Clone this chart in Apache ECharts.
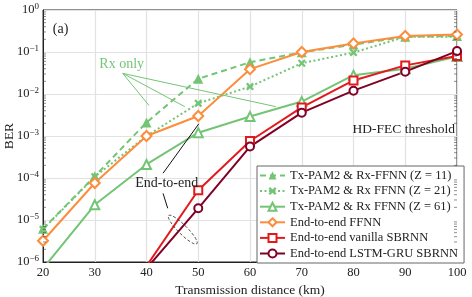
<!DOCTYPE html>
<html><head><meta charset="utf-8">
<script src="https://cdn.jsdelivr.net/npm/echarts@6/dist/echarts.min.js"></script>
<style>html,body{margin:0;padding:0;background:#fff}#c{width:472px;height:297px}</style>
</head><body><div id="c"></div>
<script>
const distances = [20, 30, 40, 50, 60, 70, 80, 90, 100];
const z11 = [6.2e-6, 1.1e-4, 2.1e-3, 2.3e-2, 5.7e-2, 0.098, 0.15, 0.23, 0.24];
const z21 = [6e-6, 1.07e-4, 1.0e-3, 6.0e-3, 1.5e-2, 0.054, 0.097, 0.23, 0.23];
const z61 = [7e-7, 2.3e-5, 2.1e-4, 1.2e-3, 2.9e-3, 6.6e-3, 2.8e-2, 4.0e-2, 0.078];
const e2eFFNN = [3.2e-6, 7.6e-5, 1.0e-3, 3.0e-3, 3.9e-2, 0.1, 0.16, 0.24, 0.26];
const vanilla = [null, null, 8e-7, 5.1e-5, 7.6e-4, 4.8e-3, 2.1e-2, 4.8e-2, 0.08];
const lstmgru = [null, null, 7e-7, 1.9e-5, 5.6e-4, 3.6e-3, 1.2e-2, 3.4e-2, 0.105];
const hdFec = 3.8e-3;
const seriesNames = [
  'Tx-PAM2 & Rx-FFNN (Z = 11)',
  'Tx-PAM2 & Rx FFNN (Z = 21)',
  'Tx-PAM2 & Rx FFNN (Z = 61)',
  'End-to-end FFNN',
  'End-to-end vanilla SBRNN',
  'End-to-end LSTM-GRU SBRNN'
];
const xTicks = [20, 30, 40, 50, 60, 70, 80, 90, 100];
const yDecades = [-6, -5, -4, -3, -2, -1, 0];

const FONT = 'Liberation Serif';
const GREEN = '#74c476', ORANGE = '#fd8d3c', RED = '#e31a1c', MAROON = '#800026';
const pairs = arr => distances.map((d, i) => [d, arr[i]]);
const xPath = 'path://M2,0L5,3L8,0L10,2L7,5L10,8L8,10L5,7L2,10L0,8L3,5L0,2Z';

const chart = echarts.init(document.getElementById('c'));
function mkSeries(name, data, color, symbol, size, ltype, filled) {
  return {
    name, type: 'line', data: pairs(data), symbol, symbolSize: size,
    showSymbol: true, connectNulls: false, clip: true,
    lineStyle: { color, width: 2, type: ltype },
    itemStyle: { color: color, borderColor: color, borderWidth: filled ? 0 : 1.8 },
    emphasis: { disabled: true }, z: 3
  };
}
const series = [
  mkSeries(seriesNames[0], z11, GREEN, 'triangle', 10, [6, 4], true),
  mkSeries(seriesNames[1], z21, GREEN, xPath, 8, [2, 2.5], true),
  mkSeries(seriesNames[2], z61, GREEN, 'emptyTriangle', 9, 'solid', false),
  mkSeries(seriesNames[3], e2eFFNN, ORANGE, 'emptyDiamond', 10, 'solid', false),
  mkSeries(seriesNames[4], vanilla, RED, 'emptyRect', 8, 'solid', false),
  mkSeries(seriesNames[5], lstmgru, MAROON, 'emptyCircle', 8, 'solid', false)
];
series[0].markLine = {
  silent: true, symbol: 'none',
  lineStyle: { color: '#222', type: [5, 4], width: 1 },
  label: { show: false },
  data: [{ yAxis: hdFec }]
};
// annotation arrows
series.push({
  name: 'annot', type: 'line', data: [], silent: true,
  markLine: {
    silent: true, symbol: ['none', 'arrow'], symbolSize: [0, 6],
    label: { show: false },
    data: [
      [{ coord: [35.4, 0.031], lineStyle: { color: GREEN } }, { coord: [40.5, 5.3e-3] }],
      [{ coord: [35.4, 0.031], lineStyle: { color: GREEN } }, { coord: [47.4, 5.0e-3] }],
      [{ coord: [35.4, 0.031], lineStyle: { color: GREEN } }, { coord: [65.0, 5.0e-3] }],
      [{ coord: [43.2, 1.3e-4], lineStyle: { color: '#111' } }, { coord: [50.1, 1.95e-3] }],
      [{ coord: [43.2, 4.3e-5], lineStyle: { color: '#111' } }, { coord: [44.1, 1.9e-5] }]
    ],
    lineStyle: { width: 1, type: 'solid' }
  }
});

chart.setOption({
  animation: false,
  grid: { left: 43, right: 15, top: 10, bottom: 35, outerBoundsMode: 'none', containLabel: false, show: true, borderColor: '#222', borderWidth: 1 },
  legend: {
    data: seriesNames, orient: 'vertical', left: 257, top: 166,
    itemWidth: 25, itemHeight: 10, itemGap: 0.6,
    backgroundColor: '#fff', borderColor: '#666', borderWidth: 1, borderRadius: 0,
    padding: [2, 6, 2, 2],
    textStyle: { fontFamily: FONT, fontSize: 12.5, color: '#222', lineHeight: 15 },
    selectedMode: false
  },
  xAxis: {
    type: 'value', min: 20, max: 100, interval: 10,
    name: 'Transmission distance (km)', nameLocation: 'middle', nameGap: 18,
    nameTextStyle: { fontFamily: FONT, fontSize: 13.5, color: '#222' },
    axisLine: { lineStyle: { color: '#222' } },
    axisTick: { show: false },
    axisLabel: { fontFamily: FONT, fontSize: 12.5, color: '#222', margin: 4 },
    splitLine: { lineStyle: { color: '#e2e2e2', width: 1.2 } }
  },
  yAxis: {
    type: 'log', min: 1e-6, max: 1, logBase: 10,
    name: 'BER', nameLocation: 'middle', nameGap: 27, nameMoveOverlap: false,
    nameTextStyle: { fontFamily: FONT, fontSize: 13.5, color: '#222' },
    axisLine: { lineStyle: { color: '#222' } },
    axisTick: { show: false },
    axisLabel: {
      margin: 4, fontFamily: FONT, color: '#222',
      formatter: v => { const e = Math.round(Math.log10(v)); return '{b|10}{s|' + (e < 0 ? '\u2212' + (-e) : e) + '}'; },
      rich: { b: { fontFamily: FONT, fontSize: 12.5, color: '#222' }, s: { fontFamily: FONT, fontSize: 9, color: '#222', padding: [0, 0, 7, 0] } }
    },
    splitLine: { lineStyle: { color: '#e2e2e2', width: 1.2 } }
  },
  series
});

// decorations in data coordinates
const P = (x, y) => chart.convertToPixel({ gridIndex: 0 }, [x, y]);
const g = [];
const txt = (x, y, s, color, size, align) => {
  const p = P(x, y);
  g.push({ type: 'text', x: p[0], y: p[1], style: { text: s, fill: color, fontFamily: FONT, fontSize: size, textAlign: align || 'center', textVerticalAlign: 'middle' }, z: 10 });
};
txt(23.4, 0.35, '(a)', '#222', 14);
txt(35.2, 0.052, 'Rx only', GREEN, 14);
txt(43.9, 7.5e-5, 'End-to-end', '#222', 14);
txt(99.6, 1.4e-3, 'HD-FEC threshold', '#222', 13.5, 'right');
// dashed ellipse
{
  const c = P(47.0, 5.9e-6);
  g.push({ type: 'ellipse', x: c[0], y: c[1], rotation: -Math.PI / 4, shape: { cx: 0, cy: 0, rx: 20, ry: 4.5 },
    style: { fill: 'none', stroke: '#333', lineWidth: 0.8, lineDash: [3, 2] }, z: 10 });
}
// minor ticks on left and right edges of the log axis
{
  const left = P(20, 1)[0], right = P(100, 1)[0];
  for (let e = -6; e < 0; e++) {
    for (let k = 2; k <= 9; k++) {
      const y = P(20, k * Math.pow(10, e))[1];
      g.push({ type: 'line', shape: { x1: left, y1: y, x2: left + 3, y2: y }, style: { stroke: '#444', lineWidth: 0.6 }, z: 5 });
      g.push({ type: 'line', shape: { x1: right, y1: y, x2: right - 3, y2: y }, style: { stroke: '#444', lineWidth: 0.6 }, z: 5 });
    }
  }
}
chart.setOption({ graphic: g });
</script></body></html>
